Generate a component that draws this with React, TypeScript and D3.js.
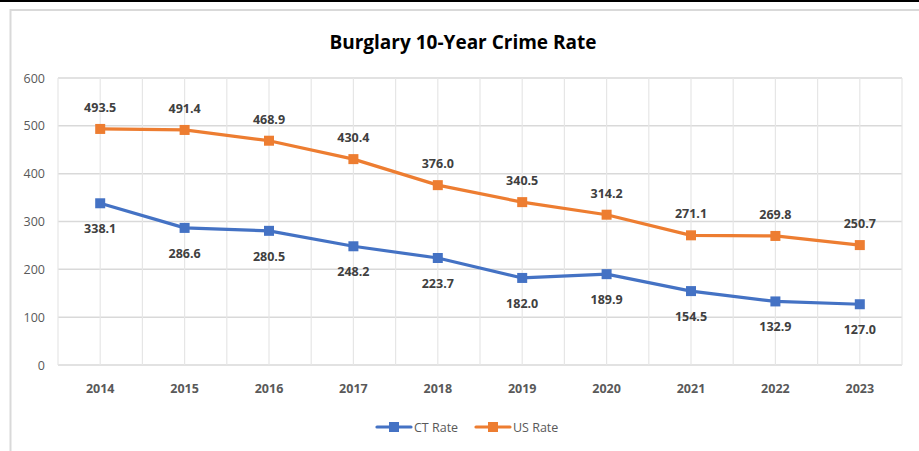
import React from "react";
import * as d3 from "d3";

const years = ["2014", "2015", "2016", "2017", "2018", "2019", "2020", "2021", "2022", "2023"];
const ctRate = [338.1, 286.6, 280.5, 248.2, 223.7, 182.0, 189.9, 154.5, 132.9, 127.0];
const usRate = [493.5, 491.4, 468.9, 430.4, 376.0, 340.5, 314.2, 271.1, 269.8, 250.7];
const yTicks = [0, 100, 200, 300, 400, 500, 600];

const W = 919;
const H = 451;
const FONT = "'Open Sans', 'Noto Sans', sans-serif";

export default function App() {
  const left = 58;
  const right = 902;
  const top = 78;
  const bottom = 365;
  const x = d3.scaleBand<string>().domain(years).range([left, right]).padding(0);
  const y = d3.scaleLinear().domain([0, 600]).range([bottom, top]);
  const cx = (d: string) => (x(d) as number) + x.bandwidth() / 2;
  const line = d3
    .line<number>()
    .x((_, i) => cx(years[i]))
    .y((v) => y(v));

  const vLines: number[] = [];
  years.forEach((yr) => {
    vLines.push(x(yr) as number);
    vLines.push(cx(yr));
  });
  vLines.push(right);

  const series = [
    { name: "CT Rate", data: ctRate, color: "#4472C4", above: false },
    { name: "US Rate", data: usRate, color: "#ED7D31", above: true },
  ];

  return (
    <svg width={W} height={H} style={{ position: "absolute", left: 0, top: 0, background: "#fff" }}>
      <rect x={0} y={0} width={W} height={H} fill="#fff" />
      <line x1={0} x2={W} y1={1} y2={1} stroke="#000" strokeWidth={2} />
      <path d={`M${10.5},${H} V${10} H${W}`} fill="none" stroke="#d9d9d9" strokeWidth={2} />
      <text x={463} y={49} textAnchor="middle" fontFamily={FONT} fontWeight="bold" fontSize={19} fill="#000">
        Burglary 10-Year Crime Rate
      </text>
      {yTicks.map((t) => (
        <g key={t}>
          <line x1={left} x2={right} y1={y(t)} y2={y(t)} stroke="#d9d9d9" strokeWidth={1.5} />
          <text x={45} y={y(t) + 4.5} textAnchor="end" fontFamily={FONT} fontSize={12.5} fill="#595959">
            {t}
          </text>
        </g>
      ))}
      {vLines.map((v, i) => (
        <line key={i} x1={v} x2={v} y1={top} y2={bottom} stroke="#e6e6e6" strokeWidth={1.2} />
      ))}
      {years.map((yr) => (
        <text key={yr} x={cx(yr)} y={393} textAnchor="middle" fontFamily={FONT} fontWeight="bold" fontSize={12.5} fill="#595959">
          {yr}
        </text>
      ))}
      {series.map((s) => (
        <g key={s.name}>
          <path d={line(s.data) as string} fill="none" stroke={s.color} strokeWidth={3.2} strokeLinejoin="round" />
          {s.data.map((v, i) => (
            <rect key={i} x={cx(years[i]) - 5} y={y(v) - 5} width={10} height={10} fill={s.color} />
          ))}
          {s.data.map((v, i) => (
            <text
              key={"l" + i}
              x={cx(years[i])}
              y={s.above ? y(v) - 17 : y(v) + 30}
              textAnchor="middle"
              fontFamily={FONT}
              fontWeight="bold"
              fontSize={12.5}
              fill="#404040"
            >
              {v.toFixed(1)}
            </text>
          ))}
        </g>
      ))}
      {series.map((s, i) => {
        const lx = i === 0 ? 377 : 476;
        return (
          <g key={"lg" + s.name}>
            <line x1={lx} x2={lx + 34} y1={427} y2={427} stroke={s.color} strokeWidth={3.2} strokeLinecap="round" />
            <rect x={lx + 12} y={422} width={10} height={10} fill={s.color} />
            <text x={lx + 37} y={431.5} fontFamily={FONT} fontSize={12.5} fill="#595959">
              {s.name}
            </text>
          </g>
        );
      })}
    </svg>
  );
}
